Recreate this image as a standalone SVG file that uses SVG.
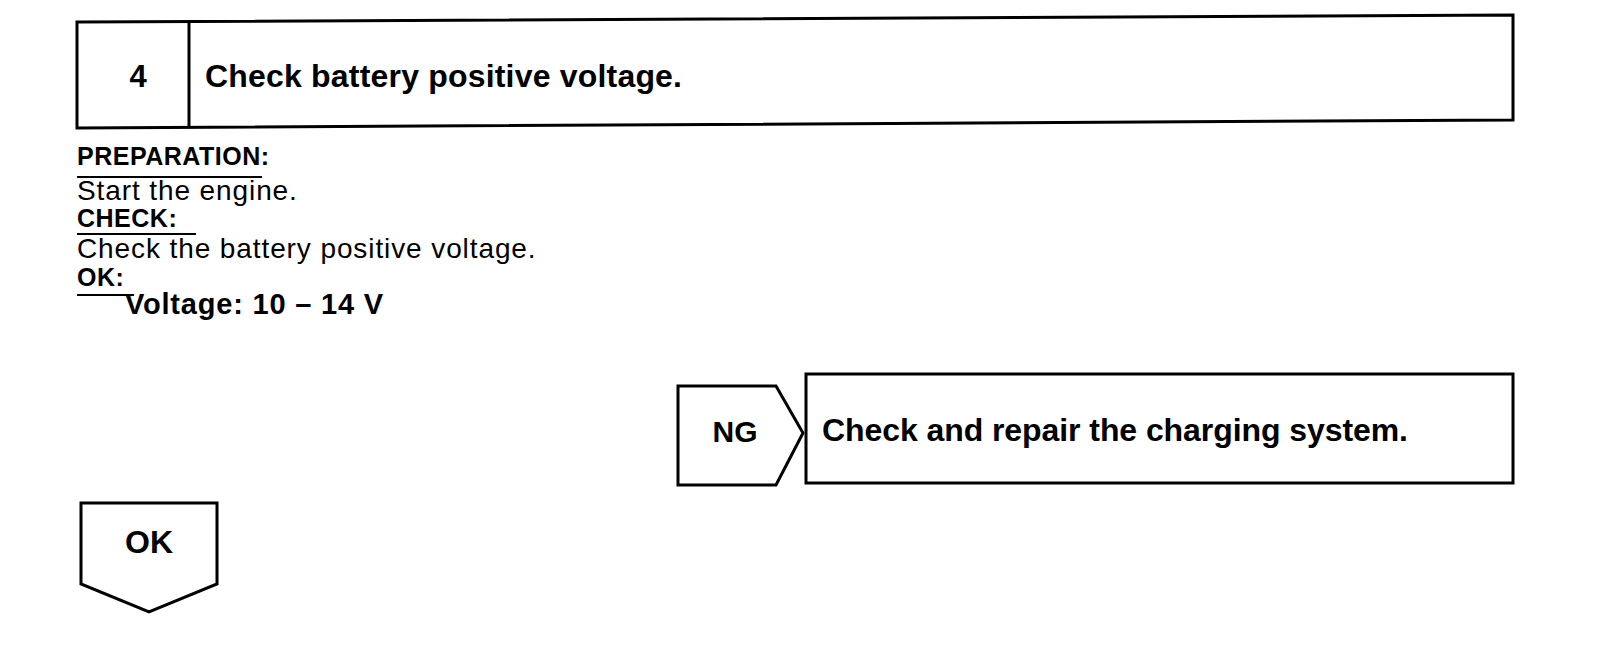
<svg xmlns="http://www.w3.org/2000/svg" width="1600" height="650" viewBox="0 0 1600 650">
<style>
.ln{fill:none;stroke:#000;stroke-width:3;stroke-linejoin:miter}
.ul{stroke:#000;stroke-width:2}
.t{font-family:"Liberation Sans",Arial,sans-serif;fill:#000}
.b{font-weight:bold}
.r{font-size:28px;letter-spacing:0.9px}
.h{font-size:25px;font-weight:bold;letter-spacing:0.5px}
</style>
<rect width="1600" height="650" fill="#fff"/>
<g id="step4">
<polygon class="ln" points="77,22 1513,15 1513,120 77,128"/>
<line class="ln" x1="189" y1="21" x2="189" y2="127"/>
<text class="t b" x="138" y="87" font-size="31" text-anchor="middle">4</text>
<text class="t b" x="205" y="87" font-size="32" textLength="477" lengthAdjust="spacing">Check battery positive voltage.</text>
</g>
<g id="instructions">
<text class="t h" x="77" y="165">PREPARATION:</text>
<line class="ul" x1="77" y1="177" x2="262" y2="177"/>
<text class="t r" x="77" y="200">Start the engine.</text>
<text class="t h" x="77" y="227">CHECK:</text>
<line class="ul" x1="77" y1="234" x2="196" y2="234"/>
<text class="t r" x="77" y="258">Check the battery positive voltage.</text>
<text class="t h" x="77" y="286">OK:</text>
<line class="ul" x1="77" y1="295" x2="134" y2="295"/>
<text class="t b" x="125" y="314" font-size="29" letter-spacing="0.8">Voltage: 10 – 14 V</text>
</g>
<g id="ng">
<polygon class="ln" points="678,386 776,386 803,433 776,485 678,485"/>
<text class="t b" x="735" y="442" font-size="30" text-anchor="middle">NG</text>
</g>
<g id="repair">
<rect class="ln" x="806" y="374" width="707" height="109"/>
<text class="t b" x="822" y="441" font-size="32" textLength="586" lengthAdjust="spacing">Check and repair the charging system.</text>
</g>
<g id="ok">
<polygon class="ln" points="81,503 217,503 217,584 149,612 81,584"/>
<text class="t b" x="149" y="553" font-size="32" text-anchor="middle">OK</text>
</g>
</svg>
